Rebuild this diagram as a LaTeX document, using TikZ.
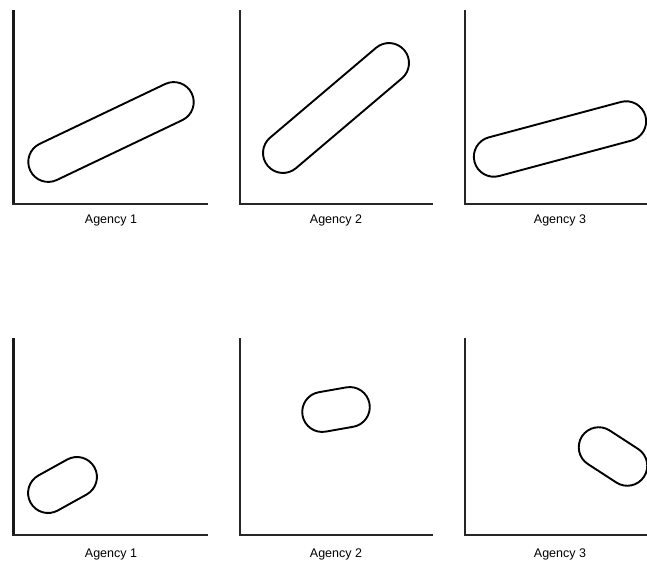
\documentclass[tikz,border=0pt]{standalone}
\usepackage{fontspec}
\setmainfont{Liberation Sans}
\usetikzlibrary{shapes.misc}
\tikzset{
  axisline/.style={line width=2pt, black!85},
  axisthick/.style={line width=3pt, black!90},
  capsule/.style={rounded rectangle, draw, line width=1.9pt, inner sep=0pt, minimum height=40pt},
  agencylabel/.style={anchor=base, inner sep=0pt, font=\fontsize{12.5}{14}\selectfont}
}
\begin{document}
\begin{tikzpicture}[x=1pt, y=-1pt]
\useasboundingbox (0,0) rectangle (647,561);
% ---- top row axes
\coordinate (t1top) at (13.5,10);
\coordinate (t1o) at (13.5,204.5);
\coordinate (t1x0) at (12,204.5);
\coordinate (t1x) at (208,204.5);
\coordinate (t2top) at (240,10);
\coordinate (t2o) at (240,204.5);
\coordinate (t2x0) at (239,204.5);
\coordinate (t2x) at (433,204.5);
\coordinate (t3top) at (465,10);
\coordinate (t3o) at (465,204.5);
\coordinate (t3x0) at (464,204.5);
\coordinate (t3x) at (647,204.5);
\draw[axisthick] (t1top) -- (t1o);
\draw[axisline] (t1x0) -- (t1x);
\draw[axisline] (t2top) -- (t2o);
\draw[axisline] (t2x0) -- (t2x);
\draw[axisline] (t3top) -- (t3o);
\draw[axisline] (t3x0) -- (t3x);
% ---- bottom row axes
\coordinate (b1top) at (13.5,338);
\coordinate (b1o) at (13.5,535);
\coordinate (b1x0) at (12,535);
\coordinate (b1x) at (208,535);
\coordinate (b2top) at (240,338);
\coordinate (b2o) at (240,535);
\coordinate (b2x0) at (239,535);
\coordinate (b2x) at (433,535);
\coordinate (b3top) at (465,338);
\coordinate (b3o) at (465,535);
\coordinate (b3x0) at (464,535);
\coordinate (b3x) at (647,535);
\draw[axisthick] (b1top) -- (b1o);
\draw[axisline] (b1x0) -- (b1x);
\draw[axisline] (b2top) -- (b2o);
\draw[axisline] (b2x0) -- (b2x);
\draw[axisline] (b3top) -- (b3o);
\draw[axisline] (b3x0) -- (b3x);
% ---- capsules top row
\node[capsule, minimum width=179pt, rotate=25.5] (c1) at (111,132) {};
\node[capsule, minimum width=179pt, rotate=40.3] (c2) at (336,108) {};
\node[capsule, minimum width=177pt, rotate=15] (c3) at (560,139) {};
% ---- capsules bottom row
\node[capsule, minimum width=73pt, rotate=29] (d1) at (62.5,485) {};
\node[capsule, minimum width=68pt, rotate=10] (d2) at (336,409.5) {};
\node[capsule, minimum width=74pt, rotate=-33] (d3) at (613,456.5) {};
% ---- labels
\node[agencylabel] (l1) at (111,224) {Agency 1};
\node[agencylabel] (l2) at (336,224) {Agency 2};
\node[agencylabel] (l3) at (560,224) {Agency 3};
\node[agencylabel] (m1) at (111,557) {Agency 1};
\node[agencylabel] (m2) at (336,557) {Agency 2};
\node[agencylabel] (m3) at (560,557) {Agency 3};
\end{tikzpicture}
\end{document}
